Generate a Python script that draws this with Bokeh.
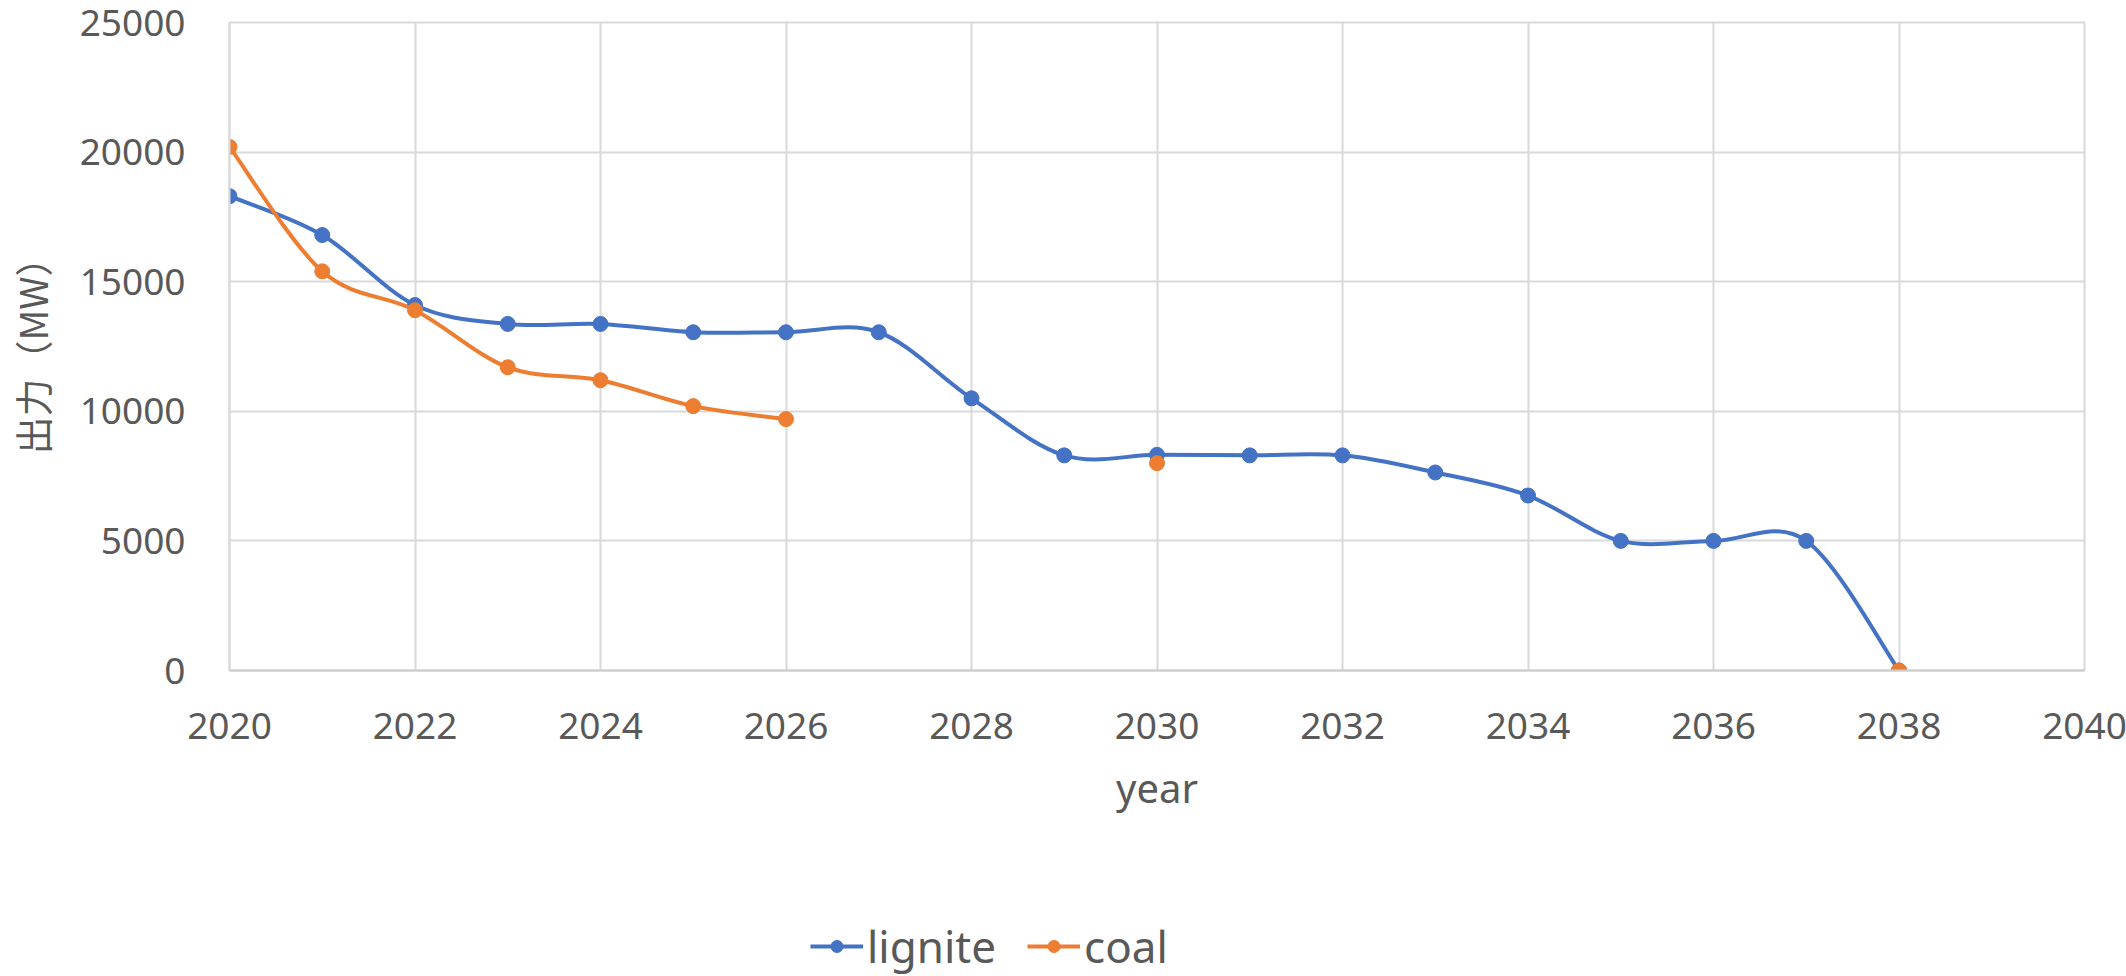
from bokeh.plotting import figure
from bokeh.layouts import column
from bokeh.models import Range1d, FixedTicker, Legend, LegendItem
from bokeh.embed import file_html
from bokeh.resources import INLINE

# ---- data ----
years = list(range(2020, 2039))
lignite = [18300, 16800, 14100, 13370, 13370, 13050, 13050, 13050, 10500, 8300,
           8320, 8300, 8300, 7640, 6750, 5000, 5000, 5000, 0]
coal = [20200, 15400, 13900, 11700, 11200, 10200, 9700, None, None, None,
        8000, None, None, None, None, None, None, None, 0]
series_names = ["lignite", "coal"]
x_ticks = list(range(2020, 2041, 2))
y_ticks = list(range(0, 25001, 5000))

BLUE = "#4472C4"
ORANGE = "#ED7D31"
GRID = "#D9D9D9"
TEXT = "#595959"


def bezier_segments(xs, ys):
    """Smooth-line control points (Catmull-Rom style, as in office charts)."""
    seg = dict(x0=[], y0=[], x1=[], y1=[], cx0=[], cy0=[], cx1=[], cy1=[])
    n = len(xs)

    def ok(i):
        return 0 <= i < n and ys[i] is not None

    for i in range(n - 1):
        if not (ok(i) and ok(i + 1)):
            continue
        a = i - 1 if ok(i - 1) else i
        b = i + 2 if ok(i + 2) else i + 1
        seg["x0"].append(xs[i]); seg["y0"].append(ys[i])
        seg["x1"].append(xs[i + 1]); seg["y1"].append(ys[i + 1])
        seg["cx0"].append(xs[i] + (xs[i + 1] - xs[a]) / 6)
        seg["cy0"].append(ys[i] + (ys[i + 1] - ys[a]) / 6)
        seg["cx1"].append(xs[i + 1] - (xs[b] - xs[i]) / 6)
        seg["cy1"].append(ys[i + 1] - (ys[b] - ys[i]) / 6)
    return seg


p = figure(frame_width=1855, frame_height=648, output_backend="svg",
           toolbar_location=None,
           x_range=Range1d(2020, 2040), y_range=Range1d(0, 25000),
           min_border_left=228, min_border_right=43, min_border_top=22,
           min_border_bottom=206)
p.background_fill_color = "white"
p.border_fill_color = "white"
p.outline_line_color = GRID
p.outline_line_width = 2

p.xaxis.ticker = FixedTicker(ticks=x_ticks)
p.yaxis.ticker = FixedTicker(ticks=y_ticks)
for g in (p.xgrid, p.ygrid):
    g.grid_line_color = GRID
    g.grid_line_width = 2

for ax in (p.xaxis, p.yaxis):
    ax.major_tick_line_color = None
    ax.minor_tick_line_color = None
    ax.major_label_text_font = "Noto Sans"
    ax.major_label_text_font_size = "37px"
    ax.major_label_text_color = TEXT
    ax.axis_label_text_color = TEXT
    ax.axis_label_text_font_style = "normal"
p.xaxis.axis_line_color = "#CCCCCC"
p.xaxis.axis_line_width = 2
p.yaxis.axis_line_color = GRID
p.yaxis.axis_line_width = 2

p.xaxis.axis_label = "year"
p.xaxis.axis_label_text_font = "Noto Sans"
p.xaxis.axis_label_text_font_size = "40px"
p.xaxis.major_label_standoff = 36
p.xaxis.axis_label_standoff = 18

p.yaxis.axis_label = "出力（MW）"
p.yaxis.axis_label_text_font = "Noto Sans CJK JP"
p.yaxis.axis_label_text_font_size = "38px"
p.yaxis.major_label_standoff = 38
p.yaxis.axis_label_standoff = 18

# lignite
bl = bezier_segments(years, lignite)
p.bezier(x0=bl["x0"], y0=bl["y0"], x1=bl["x1"], y1=bl["y1"],
         cx0=bl["cx0"], cy0=bl["cy0"], cx1=bl["cx1"], cy1=bl["cy1"],
         line_color=BLUE, line_width=4)
p.scatter(x=years, y=lignite, size=15, marker="circle",
          fill_color=BLUE, line_color=BLUE)

# coal
bc = bezier_segments(years, coal)
p.bezier(x0=bc["x0"], y0=bc["y0"], x1=bc["x1"], y1=bc["y1"],
         cx0=bc["cx0"], cy0=bc["cy0"], cx1=bc["cx1"], cy1=bc["cy1"],
         line_color=ORANGE, line_width=4)
cx = [x for x, y in zip(years, coal) if y is not None]
cy = [y for y in coal if y is not None]
p.scatter(x=cx, y=cy, size=15, marker="circle",
          fill_color=ORANGE, line_color=ORANGE)

# ---- legend strip below the chart ----
lf = figure(width=2126, height=100, output_backend="svg", toolbar_location=None,
            x_range=Range1d(0, 1), y_range=Range1d(0, 1),
            x_axis_type=None, y_axis_type=None, min_border=0)
lf.outline_line_color = None
lf.xgrid.visible = False
lf.ygrid.visible = False
items = []
for name, col in zip(series_names, [BLUE, ORANGE]):
    ln = lf.line(x=[float("nan")], y=[float("nan")], line_color=col, line_width=4)
    sc = lf.scatter(x=[float("nan")], y=[float("nan")], size=15, marker="circle",
                    fill_color=col, line_color=col)
    items.append(LegendItem(label=name, renderers=[ln, sc]))

legend = Legend(items=items, orientation="horizontal", location=(581, 0),
                border_line_color=None, background_fill_alpha=0,
                label_text_font="Noto Sans", label_text_font_size="44px",
                label_text_color=TEXT, glyph_width=53, glyph_height=30,
                spacing=31, label_standoff=4, margin=0, padding=0)
lf.add_layout(legend, "center")

layout = column(p, lf, spacing=0)
open("out.html", "w").write(file_html(layout, INLINE))
